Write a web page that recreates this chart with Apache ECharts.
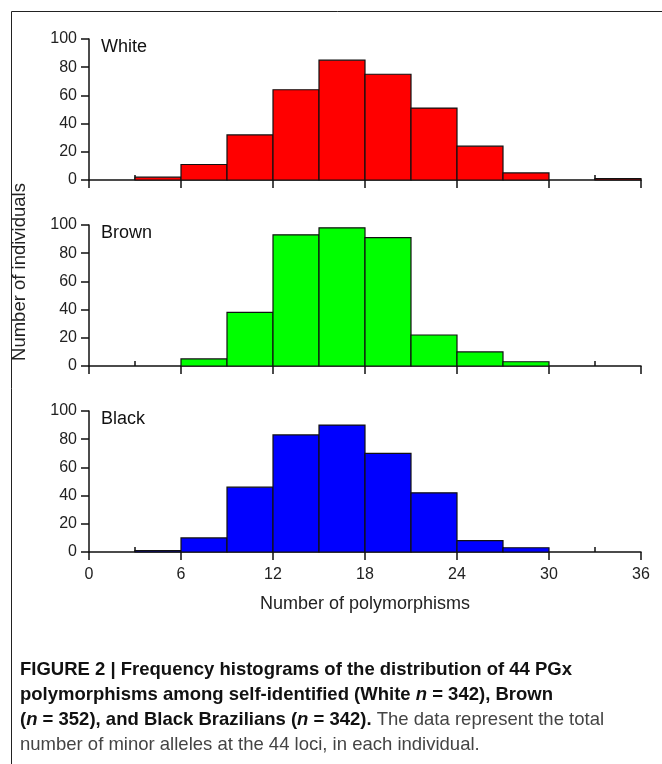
<!DOCTYPE html>
<html>
<head>
<meta charset="UTF-8">
<title>PGx polymorphisms histograms</title>
<script src="https://cdn.jsdelivr.net/npm/echarts@6/dist/echarts.min.js"></script>
<style>
  html, body { margin: 0; padding: 0; background: #fff; }
  #chart { width: 662px; height: 764px; }
</style>
</head>
<body>
<div id="chart"></div>
<script>
// bins are 3 wide, starting at 3
let binStarts = [3, 6, 9, 12, 15, 18, 21, 24, 27, 30, 33];
let binWidth = 3;
let groups = ['White', 'Brown', 'Black'];
let whiteCounts = [2, 11, 32, 64, 85, 75, 51, 24, 5, 0, 1];
let brownCounts = [0, 5, 38, 93, 98, 91, 22, 10, 3, 0, 0];
let blackCounts = [1, 10, 46, 83, 90, 70, 42, 8, 3, 0, 0];
let xTicks = [0, 6, 12, 18, 24, 30, 36];
let minorXTicks = [3, 9, 15, 21, 27, 33];
let yTicks = [0, 20, 40, 60, 80, 100];

let counts = [whiteCounts, brownCounts, blackCounts];
let colors = ['#ff0000', '#00ff00', '#0000ff'];
let gridTops = [39, 225, 411];
let gridH = 141;

let chart = echarts.init(document.getElementById('chart'));

let grid = [], xAxis = [], yAxis = [], series = [], title = [];

groups.forEach((name, i) => {
    grid.push({ left: 89, right: 21, top: gridTops[i], height: gridH });

    xAxis.push({
        type: 'value', gridIndex: i, min: xTicks[0], max: xTicks[xTicks.length - 1], interval: 6,
        axisLine: { lineStyle: { color: '#111', width: 1.5 } },
        axisTick: { length: 8, lineStyle: { color: '#111', width: 1.5 } },
        axisLabel: { show: i === 2, fontFamily: 'Liberation Sans', fontSize: 16, color: '#222', margin: 15 },
        splitLine: { show: false },
        name: i === 2 ? 'Number of polymorphisms' : '',
        nameLocation: 'middle', nameGap: 43,
        nameTextStyle: { fontFamily: 'Liberation Sans', fontSize: 18, color: '#222' }
    });
    // short inner ticks at the odd multiples of 3
    xAxis.push({
        type: 'value', gridIndex: i, min: 0, max: 36, position: 'bottom',
        axisLine: { show: false },
        axisTick: { inside: true, length: 5, customValues: minorXTicks, lineStyle: { color: '#111', width: 1.5 } },
        axisLabel: { show: false },
        splitLine: { show: false }
    });

    yAxis.push({
        type: 'value', gridIndex: i, min: yTicks[0], max: yTicks[yTicks.length - 1], interval: 20,
        axisLine: { show: true, lineStyle: { color: '#111', width: 1.5 } },
        axisTick: { show: true, length: 8, lineStyle: { color: '#111', width: 1.5 } },
        axisLabel: { fontFamily: 'Liberation Sans', fontSize: 16, color: '#222', margin: 12 },
        splitLine: { show: false }
    });

    title.push({
        text: name, left: 96, top: gridTops[i] - 6,
        textStyle: { fontFamily: 'Liberation Sans', fontSize: 18, fontWeight: 'normal', color: '#111' }
    });

    let data = binStarts.map((s, k) => [s, s + binWidth, counts[i][k]]);
    series.push({
        type: 'custom', name: name, xAxisIndex: i * 2, yAxisIndex: i,
        encode: { x: [0, 1], y: 2 },
        data: data,
        renderItem: function (params, api) {
            let v = api.value(2);
            if (!v) return null;
            let p0 = api.coord([api.value(0), 0]);
            let p1 = api.coord([api.value(1), v]);
            return {
                type: 'rect',
                shape: { x: p0[0], y: p1[1], width: p1[0] - p0[0], height: p0[1] - p1[1] },
                style: { fill: colors[i], stroke: '#111', lineWidth: 1.2 }
            };
        }
    });
});

let option = {
    animation: false,
    backgroundColor: '#fff',
    title, grid, xAxis, yAxis, series,
    graphic: [
        {
            type: 'rect', left: 9, top: 9, silent: true,
            shape: { width: 720, height: 820 },
            style: { fill: 'none', stroke: '#222', lineWidth: 1 }
        },
        {
            type: 'text', x: 20, y: 272, rotation: Math.PI / 2,
            style: {
                text: 'Number of individuals', align: 'center', verticalAlign: 'middle',
                font: '18.5px "Liberation Sans"', fill: '#222'
            }
        },
        {
            type: 'text', left: 20, top: 657,
            style: {
                text: '{b|FIGURE 2 | Frequency histograms of the distribution of 44 PGx}\n' +
                      '{b|polymorphisms among self-identified (White }{bi|n}{b| = 342), Brown}\n' +
                      '{b|(}{bi|n}{b| = 352), and Black Brazilians (}{bi|n}{b| = 342).}{n| The data represent the total}\n' +
                      '{n|number of minor alleles at the 44 loci, in each individual.}',
                lineHeight: 25,
                rich: {
                    b: { font: 'bold 18.5px "Liberation Sans"', fill: '#111', lineHeight: 25 },
                    bi: { font: 'italic bold 18.5px "Liberation Sans"', fill: '#111', lineHeight: 25 },
                    n: { font: '18.5px "Liberation Sans"', fill: '#444', lineHeight: 25 }
                }
            }
        }
    ]
};

chart.setOption(option);
</script>
</body>
</html>
